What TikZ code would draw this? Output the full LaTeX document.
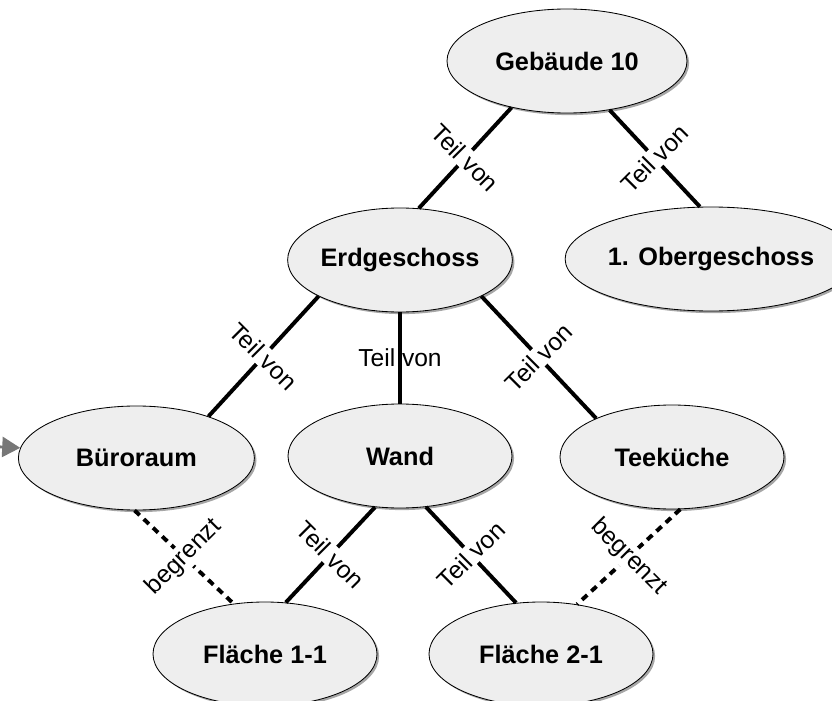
\documentclass[tikz,border=0pt]{standalone}
\usepackage{fontspec}
\setmainfont{Liberation Sans}
\usetikzlibrary{arrows.meta,shapes.geometric,shadows}
\definecolor{cFill}{HTML}{EEEEEE}
\definecolor{cTip}{HTML}{777777}
\tikzset{
  obj/.style={ellipse,draw=black,line width=.6pt,fill=cFill,minimum width=5.6cm,minimum height=2.6cm,inner sep=0pt,font=\fontsize{18}{21}\selectfont\bfseries,drop shadow={shadow xshift=1.5pt,shadow yshift=-1.5pt,opacity=.35,fill=black}},
  rel/.style={font=\fontsize{17.5}{20}\selectfont,fill=white,inner sep=1pt},
  teil/.style={line width=2.8pt},
  grenz/.style={line width=2.8pt,dash pattern=on 5pt off 4pt},
  zeig/.style={-{Triangle[length=4.5mm,width=5mm]},line width=2pt,cTip},
}
\begin{document}
\begin{tikzpicture}
  \useasboundingbox (0,0) rectangle (20.8,-17.525);
  % Objekte
  \node[obj,minimum width=6cm] (geb) at (14.175,-1.525) {Gebäude 10};
  \node[obj] (erd) at (10.0,-6.5) {Erdgeschoss};
  \node[obj,minimum width=5.45cm] (og) at (17.775,-6.475) {1. Obergeschoss};
  \node[obj,minimum width=5.9cm] (buero) at (3.41,-11.45) {Büroraum};
  \node[obj] (wand) at (10.0,-11.4) {Wand};
  \node[obj] (tee) at (16.8,-11.425) {Teeküche};
  \node[obj] (f11) at (6.625,-16.35) {Fläche 1-1};
  \node[obj] (f21) at (13.525,-16.35) {Fläche 2-1};
  % Teil-von-Beziehungen
  \draw[teil] (geb.220) -- node[rel,midway,rotate=-45] (l1) {Teil von} (erd.70);
  \draw[teil] (geb.311) -- node[rel,midway,rotate=45] (l2) {Teil von} (og.102);
  \draw[teil] (erd.204) -- node[rel,midway,rotate=-45] (l3) {Teil von} (buero.30);
  \draw[teil] (erd.south) -- node[rel,midway,fill=none] (l4) {Teil von} (wand.north);
  \draw[teil] (erd.336) -- node[rel,midway,rotate=45] (l5) {Teil von} (tee.153);
  \draw[teil] (wand.244) -- node[rel,midway,rotate=-45] (l6) {Teil von} (f11.68);
  \draw[teil] (wand.297) -- node[rel,midway,rotate=45] (l7) {Teil von} (f21.116);
  % Begrenzungen
  \draw[grenz] (buero.268) -- node[rel,midway,rotate=45] (l8) {begrenzt} (f11.122);
  \draw[grenz] (tee.279) -- node[rel,midway,rotate=-45] (l9) {begrenzt} (f21.54);
  % Verweis von aussen
  \coordinate (ext) at (-1.5,-11.1);
  \draw[zeig] (ext) -- (buero.175);
\end{tikzpicture}
\end{document}
